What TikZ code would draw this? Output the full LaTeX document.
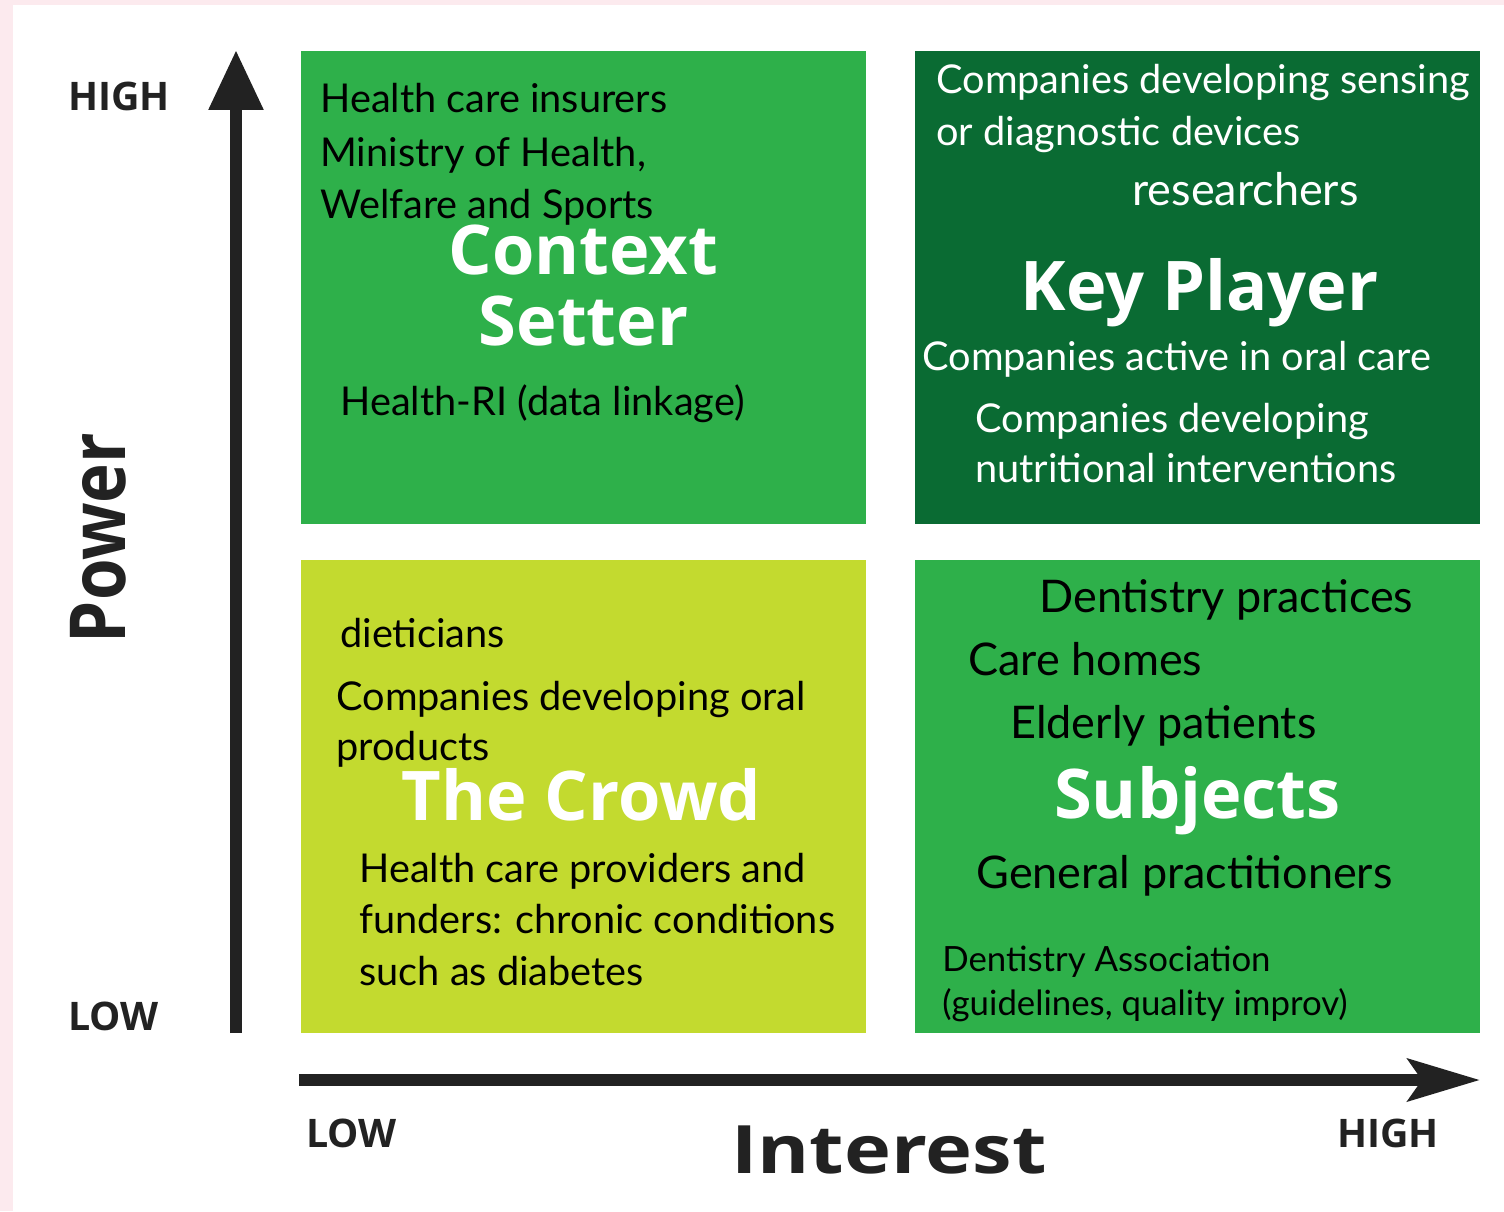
\documentclass[tikz,border=0pt]{standalone}
\usepackage{fontspec}
\usepackage{graphicx}
\setmainfont{Lato}
\newfontfamily\headfont{Open Sans}
\usetikzlibrary{arrows.meta, positioning}

\definecolor{pinkbg}{RGB}{252,234,238}
\definecolor{midgreen}{RGB}{46,176,74}
\definecolor{darkgreen}{RGB}{10,107,51}
\definecolor{limegreen}{RGB}{195,218,47}
\definecolor{axisgray}{RGB}{34,34,34}

\tikzset{
  quad/.style={inner sep=0, minimum width=11.3cm, minimum height=9.46cm},
  itemtxt/.style={inner sep=0, anchor=base west, font=\fontsize{22.6}{26}\selectfont},
  bigtxt/.style={itemtxt, font=\fontsize{25.6}{30}\selectfont},
  smalltxt/.style={itemtxt, font=\fontsize{19.8}{24}\selectfont},
  quadtitle/.style={inner sep=0, anchor=base, text=white, font=\headfont\bfseries\fontsize{39}{44}\selectfont},
  axlbl/.style={inner sep=0, anchor=base west, text=axisgray, font=\headfont\bfseries\fontsize{22.4}{26}\selectfont},
}

\begin{document}
\begin{tikzpicture}[x=0.02cm, y=-0.02cm]
\useasboundingbox (0,0) rectangle (1504,1211);
\fill[white] (0,0) rectangle (1504,1211);
\fill[pinkbg] (0,0) rectangle (13,1211);
\fill[pinkbg] (0,0) rectangle (1504,5);

% quadrants
\node[quad, fill=midgreen] (ctx) at (583.5,287.5) {};
\node[quad, fill=darkgreen] (key) at (1197.5,287.5) {};
\node[quad, fill=limegreen] (crowd) at (583.5,796.5) {};
\node[quad, fill=midgreen] (subj) at (1197.5,796.5) {};

% axes
\coordinate (pbot) at (236,1033);
\coordinate (ptop) at (236,50);
\coordinate (ilft) at (299,1080);
\coordinate (irgt) at (1480,1080);
\draw[axisgray, line width=0.24cm, -{Triangle[length=1.2cm, width=1.04cm]}] (pbot) -- (ptop);
\draw[axisgray, line width=0.24cm, -{Stealth[length=1.44cm, width=0.84cm, inset=0.28cm]}] (ilft) -- (irgt);

\node[axlbl] (phigh) at (68,110) {HIGH};
\node[axlbl] (plow) at (68,1030) {LOW};
\node[axlbl] (ilow) at (306,1147) {LOW};
\node[axlbl] (ihigh) at (1337,1147) {HIGH};
\node[inner sep=0, anchor=base, rotate=90, text=axisgray, font=\headfont\bfseries\fontsize{44}{48}\selectfont] (power) at (125,538) {\scalebox{0.87}[1]{Power}};
\node[inner sep=0, anchor=base, text=axisgray, font=\headfont\bfseries\fontsize{38}{42}\selectfont] (interest) at (889,1173) {\scalebox{1.19}[1]{Interest}};

% context setter
\node[itemtxt] (hci) at (320,112) {Health care insurers};
\node[itemtxt] (moh) at (320,166) {Ministry of Health,};
\node[itemtxt] (wfs) at (320,218) {Welfare and Sports};
\node[quadtitle] (ctxa) at (583.5,274) {Context};
\node[quadtitle] (ctxb) at (583.5,345) {Setter};
\node[itemtxt] (hri) at (340,415) {Health-RI (data linkage)};

% key player
\node[itemtxt, text=white] (sens) at (936,93) {Companies developing sensing};
\node[itemtxt, text=white] (diag) at (936,145) {or diagnostic devices};
\node[bigtxt, text=white] (res) at (1132,205) {researchers};
\node[quadtitle] (keyt) at (1199.5,310) {Key Player};
\node[itemtxt, text=white] (oral) at (922,370) {Companies active in oral care};
\node[itemtxt, text=white] (nutra) at (975,432) {Companies developing};
\node[itemtxt, text=white] (nutrb) at (975,482) {nutritional interventions};

% the crowd
\node[itemtxt] (diet) at (340,647) {dieticians};
\node[itemtxt] (orpa) at (336,710) {Companies developing oral};
\node[itemtxt] (orpb) at (336,760) {products};
\node[quadtitle] (crowdt) at (581.5,820) {The Crowd};
\node[itemtxt] (hcpa) at (359,882) {Health care providers and};
\node[itemtxt] (hcpb) at (359,933) {funders: chronic conditions};
\node[itemtxt] (hcpc) at (359,985) {such as diabetes};

% subjects
\node[bigtxt] (dent) at (1039,612) {Dentistry practices};
\node[bigtxt] (care) at (968,675) {Care homes};
\node[bigtxt] (eld) at (1010,738) {Elderly patients};
\node[quadtitle] (subjt) at (1197.5,818) {Subjects};
\node[bigtxt] (gp) at (976,888) {General practitioners};
\node[smalltxt] (dass) at (942,971) {Dentistry Association};
\node[smalltxt] (guid) at (942,1015) {(guidelines, quality improv)};
\end{tikzpicture}
\end{document}
